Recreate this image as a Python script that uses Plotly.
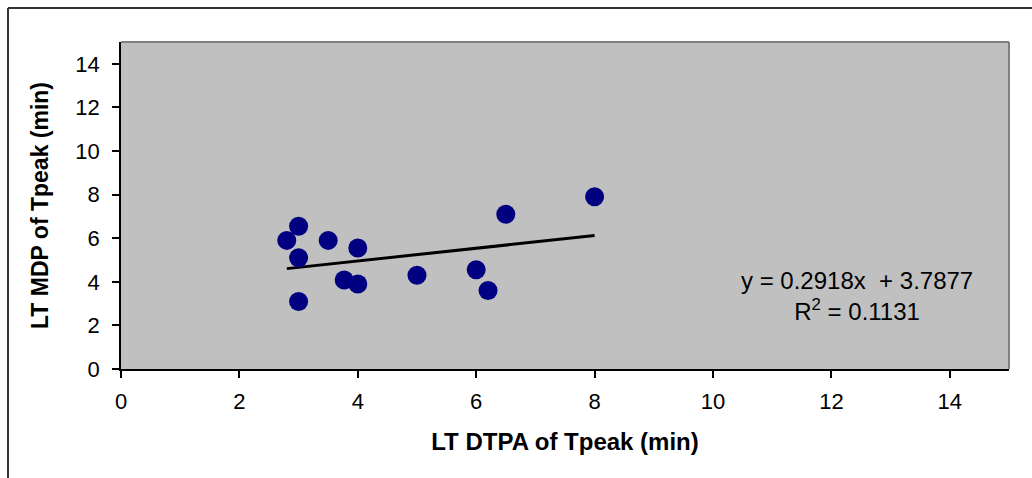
import plotly.graph_objects as go

# Data
dtpa_tpeak = [2.8, 3.0, 3.0, 3.0, 3.5, 4.0, 3.77, 4.0, 5.0, 6.0, 6.2, 6.5, 8.0]
mdp_tpeak = [5.9, 6.55, 5.1, 3.1, 5.9, 5.55, 4.08, 3.9, 4.3, 4.55, 3.6, 7.1, 7.9]
slope = 0.2918
intercept = 3.7877
r_squared = 0.1131
x_ticks = [0, 2, 4, 6, 8, 10, 12, 14]
y_ticks = [0, 2, 4, 6, 8, 10, 12, 14]

W, H = 1032, 478
L, R, T, B = 121, 23, 42, 109
pw, ph = W - L - R, H - T - B

def px_to_paper_x(px):
    return (px - L) / pw

def py_to_paper_y(py):
    return (H - B - py) / ph

x_min, x_max = min(dtpa_tpeak), max(dtpa_tpeak)
trend_x = [x_min, x_max]
trend_y = [slope * v + intercept for v in trend_x]

fig = go.Figure()
fig.add_trace(go.Scatter(
    x=trend_x, y=trend_y, mode="lines",
    line=dict(color="black", width=3), showlegend=False, hoverinfo="skip"))
fig.add_trace(go.Scatter(
    x=dtpa_tpeak, y=mdp_tpeak, mode="markers",
    marker=dict(color="#000080", size=19, line=dict(width=0)),
    showlegend=False))

font_family = "Arial"

fig.update_layout(
    width=W, height=H,
    margin=dict(l=L, r=R, t=T, b=B, pad=0),
    paper_bgcolor="white",
    plot_bgcolor="#C0C0C0",
    font=dict(family=font_family, size=20, color="black"),
    xaxis=dict(
        range=[0, 15], tickvals=x_ticks, ticktext=[str(v) for v in x_ticks],
        showgrid=False, zeroline=False,
        showline=True, linecolor="black", linewidth=1.5, mirror=False,
        ticks="outside", ticklen=7, tickcolor="black", tickwidth=1.5,
        ticklabelstandoff=5,
        tickfont=dict(size=22, family=font_family, color="black"),
        title=dict(text="<b>LT DTPA of Tpeak (min)</b>", standoff=20,
                   font=dict(size=24, family=font_family, color="black")),
    ),
    yaxis=dict(
        range=[0, 15], tickvals=y_ticks, ticktext=[str(v) for v in y_ticks],
        showgrid=False, zeroline=False,
        showline=True, linecolor="black", linewidth=1.5, mirror=False,
        ticks="outside", ticklen=7, tickcolor="black", tickwidth=1.5,
        ticklabelstandoff=8,
        tickfont=dict(size=22, family=font_family, color="black"),
        title=dict(text="<b>LT MDP of Tpeak (min)</b>", standoff=20,
                   font=dict(size=23, family=font_family, color="black")),
    ),
    shapes=[
        dict(type="line", xref="paper", yref="paper", x0=0, x1=1, y0=1, y1=1,
             line=dict(color="#808080", width=2)),
        dict(type="line", xref="paper", yref="paper", x0=1, x1=1, y0=0, y1=1,
             line=dict(color="#808080", width=2)),
        dict(type="line", xref="paper", yref="paper",
             x0=px_to_paper_x(8), x1=px_to_paper_x(1040),
             y0=py_to_paper_y(8), y1=py_to_paper_y(8),
             line=dict(color="#333333", width=2)),
        dict(type="line", xref="paper", yref="paper",
             x0=px_to_paper_x(8), x1=px_to_paper_x(8),
             y0=py_to_paper_y(8), y1=py_to_paper_y(490),
             line=dict(color="#333333", width=2)),
    ],
    annotations=[
        dict(x=12.43, y=3.35, xref="x", yref="y",
             text=f"y = {slope}x  + {intercept}<br>R<sup>2</sup> = {r_squared}",
             showarrow=False, align="center",
             font=dict(size=24, family=font_family, color="black")),
    ],
)

fig.write_html("out.html")
